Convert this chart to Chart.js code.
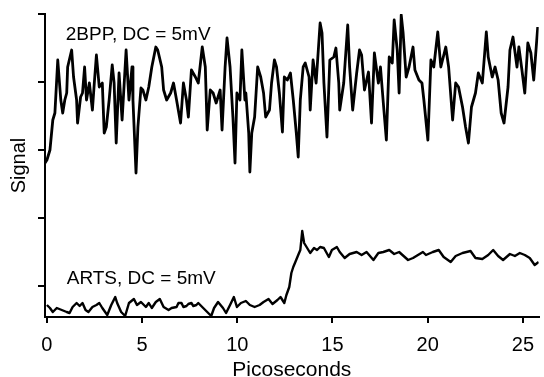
<!DOCTYPE html>
<html>
<head>
<meta charset="utf-8">
<script src="https://cdn.jsdelivr.net/npm/chart.js@4.4.1/dist/chart.umd.min.js"></script>
<style>
  html, body { margin: 0; padding: 0; background: #fff; }
  #wrap { width: 544px; height: 377px; }
</style>
</head>
<body>
<div id="wrap"><canvas id="trace"></canvas></div>
<script>
// time axis in picoseconds, signal in arbitrary units (no labels on the y axis)
const bppTime = [-0.10,0.00,0.16,0.31,0.42,0.57,0.73,0.83,0.94,1.04,
  1.09,1.30,1.40,1.56,1.61,1.77,1.87,1.98,2.08,2.23,
  2.39,2.49,2.60,2.75,2.91,3.01,3.12,3.27,3.43,3.53,
  3.64,3.79,3.95,4.16,4.31,4.47,4.52,4.68,4.78,4.94,
  5.04,5.20,5.35,5.51,5.72,5.82,6.03,6.13,6.29,6.50,
  6.65,6.81,7.02,7.17,7.33,7.43,7.59,7.80,7.95,8.16,
  8.32,8.42,8.58,8.73,8.89,9.10,9.20,9.36,9.46,9.62,
  9.77,9.88,9.98,10.14,10.24,10.40,10.45,10.60,10.66,10.76,
  10.91,11.07,11.23,11.38,11.49,11.69,11.80,11.95,12.06,12.21,
  12.37,12.47,12.63,12.79,12.94,13.10,13.20,13.31,13.46,13.57,
  13.77,13.83,13.98,14.14,14.35,14.45,14.55,14.71,14.86,15.07,
  15.18,15.33,15.38,15.59,15.80,15.90,16.06,16.27,16.42,16.53,
  16.68,16.89,17.05,17.20,17.41,17.52,17.67,17.83,17.98,18.14,
  18.24,18.40,18.50,18.61,18.71,18.87,19.02,19.23,19.33,19.54,
  19.70,19.80,20.01,20.17,20.32,20.53,20.69,20.95,21.10,21.31,
  21.47,21.62,21.83,21.99,22.14,22.30,22.51,22.66,22.87,23.08,
  23.18,23.39,23.54,23.70,23.86,24.01,24.22,24.32,24.48,24.69,
  24.79,24.95,25.10,25.26,25.42,25.57,25.78];
const bppSignal = [154,157,167,197,204,257,217,204,217,224,
  250,267,240,217,194,220,224,250,217,234,
  207,234,262,230,234,184,190,217,252,234,
  174,244,197,267,217,250,217,144,190,229,
  227,217,230,250,270,267,250,227,217,224,
  234,217,194,234,217,200,247,240,234,270,
  250,187,227,224,214,227,187,250,279,250,
  200,154,224,217,267,217,224,184,145,184,
  200,250,240,224,200,207,234,257,250,224,
  185,240,237,244,217,184,160,217,250,254,
  240,207,257,234,294,284,234,180,257,260,
  269,234,207,234,292,250,207,244,267,262,
  227,245,194,264,234,250,214,177,260,254,
  297,267,224,302,284,240,250,270,247,237,
  234,217,177,257,250,285,250,270,250,197,
  234,230,210,190,174,210,224,244,234,285,
  260,240,250,237,204,194,230,267,280,250,
  270,247,224,274,264,237,290];

const artsTime = [0.00,0.16,0.31,0.52,0.78,1.04,1.19,1.35,1.56,1.72,
  1.87,2.03,2.18,2.39,2.60,2.75,2.91,3.17,3.38,3.59,
  3.69,3.90,4.11,4.31,4.57,4.73,4.94,5.20,5.35,5.51,
  5.72,5.93,6.13,6.39,6.55,6.81,6.91,7.07,7.17,7.33,
  7.43,7.59,7.69,7.85,7.95,8.21,8.42,8.63,8.78,8.99,
  9.25,9.41,9.62,9.82,9.98,10.19,10.45,10.66,10.91,11.17,
  11.38,11.64,11.85,12.11,12.27,12.47,12.58,12.73,12.84,12.94,
  13.05,13.20,13.31,13.41,13.51,13.67,13.83,14.03,14.19,14.35,
  14.55,14.81,14.97,15.23,15.38,15.64,15.90,16.27,16.53,16.79,
  17.15,17.41,17.67,17.98,18.24,18.50,18.97,19.23,19.49,19.75,
  19.91,20.27,20.58,20.84,21.21,21.47,21.83,22.25,22.51,22.87,
  23.18,23.44,23.70,23.96,24.32,24.58,24.84,25.10,25.36,25.62,
  25.83];
const artsSignal = [12,9,5,9,7,5,4,10,14,11,
  14,7,5,10,12,14,9,2,12,20,
  14,5,1,14,18,12,15,10,14,9,
  15,18,10,7,9,10,14,14,10,11,
  13,14,11,12,14,9,5,1,9,15,
  9,4,12,20,10,14,16,12,10,12,
  15,18,13,17,20,14,22,30,44,50,
  55,62,67,86,74,69,64,69,67,70,
  69,60,67,70,65,59,63,65,62,65,
  57,64,65,67,63,65,57,59,62,65,
  62,65,67,60,55,61,64,66,59,58,
  62,67,61,57,63,61,64,62,59,52,
  55];

const xTicks = [0, 5, 10, 15, 20, 25];
const yTicks = [31, 99, 167, 235, 303];
const noteText = ['2BPP, DC = 5mV', 'ARTS, DC = 5mV'];

const FONT = '"Liberation Sans", Arial, Helvetica, sans-serif';

function toPoints(ts, vs) {
  return ts.map((t, i) => ({ x: t, y: vs[i] }));
}

// text labels next to each trace
const notesPlugin = {
  id: 'notes',
  afterDatasetsDraw(chart) {
    const { ctx, scales } = chart;
    ctx.save();
    ctx.font = '19px ' + FONT;
    ctx.fillStyle = '#000';
    ctx.textBaseline = 'middle';
    ctx.fillText(noteText[0], scales.x.getPixelForValue(0.99), scales.y.getPixelForValue(282));
    ctx.fillText(noteText[1], scales.x.getPixelForValue(1.04), scales.y.getPixelForValue(38));
    ctx.restore();
  }
};

const ctx = document.getElementById('trace').getContext('2d');
new Chart(ctx, {
  type: 'line',
  data: {
    datasets: [{
      label: '2BPP',
      data: toPoints(bppTime, bppSignal),
      borderColor: '#000',
      borderWidth: 2.8,
      borderJoinStyle: 'round',
      pointRadius: 0,
      tension: 0,
      fill: false
    }, {
      label: 'ARTS',
      data: toPoints(artsTime, artsSignal),
      borderColor: '#000',
      borderWidth: 2.4,
      borderJoinStyle: 'round',
      pointRadius: 0,
      tension: 0,
      fill: false
    }]
  },
  options: {
    responsive: true,
    maintainAspectRatio: false,
    animation: false,
    devicePixelRatio: 1,
    layout: { padding: { top: 14, left: 0, right: 0, bottom: 0 } },
    plugins: {
      legend: { display: false },
      tooltip: { enabled: false }
    },
    scales: {
      x: {
        type: 'linear',
        min: -0.1,
        max: 25.83,
        afterBuildTicks: (s) => { s.ticks = xTicks.map(v => ({ value: v })); },
        afterFit: (s) => { s.height = 60; },
        ticks: {
          color: '#000',
          font: { family: FONT, size: 20 },
          padding: 10,
          maxRotation: 0,
          autoSkip: false
        },
        grid: {
          drawOnChartArea: false,
          drawTicks: true,
          tickLength: 6,
          color: '#000',
          lineWidth: 2
        },
        border: { display: true, color: '#000', width: 2 },
        title: {
          display: true,
          text: 'Picoseconds',
          color: '#000',
          font: { family: FONT, size: 21, lineHeight: 0.67 },
          padding: 0
        }
      },
      y: {
        type: 'linear',
        min: 0,
        max: 303,
        afterBuildTicks: (s) => { s.ticks = yTicks.map(v => ({ value: v })); },
        afterFit: (s) => { s.width = 45; },
        ticks: { display: false },
        grid: {
          drawOnChartArea: false,
          drawTicks: true,
          tickLength: 7,
          color: '#000',
          lineWidth: 2
        },
        border: { display: true, color: '#000', width: 2 },
        title: {
          display: true,
          text: 'Signal',
          color: '#000',
          font: { family: FONT, size: 20 },
          padding: { top: 7, bottom: 0 }
        }
      }
    }
  },
  plugins: [notesPlugin]
});
</script>
</body>
</html>
